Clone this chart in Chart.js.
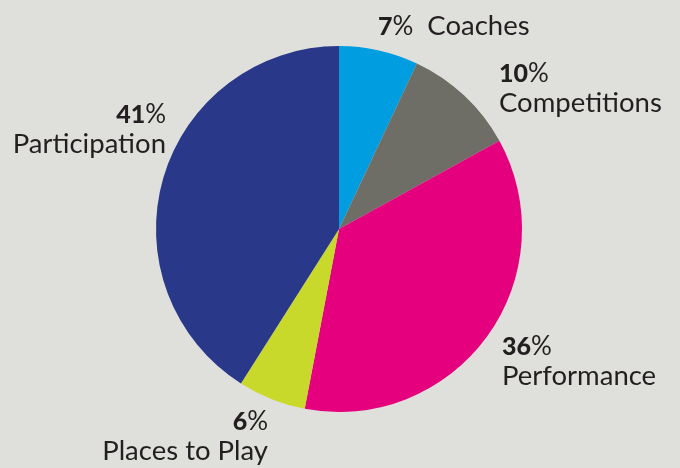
<!DOCTYPE html>
<html>
<head>
<meta charset="utf-8">
<script src="https://cdn.jsdelivr.net/npm/chart.js@4"></script>
<style>
  body { margin: 0; background: #dfdfdc; }
  #wrap { width: 680px; height: 468px; }
</style>
</head>
<body>
<div id="wrap"><canvas id="pieChart" width="680" height="468"></canvas></div>
<script>
const categories = ["Coaches", "Competitions", "Performance", "Places to Play", "Participation"];
const shares = [7, 10, 36, 6, 41];
const colours = ["#009ee0", "#6e6e66", "#e5007d", "#c9d92b", "#2a3889"];

// where each label sits, relative to the pie centre
const labelLayout = [
  { dx: 39, dy: -194, align: "left", oneLine: true },
  { dx: 160, dy: -147, align: "left" },
  { dx: 163, dy: 126, align: "left" },
  { dx: -71, dy: 201, align: "right" },
  { dx: -173, dy: -106, align: "right" }
];

const fontFam = "Lato, 'Open Sans', sans-serif";
const numFont = "900 25px " + fontFam;
const nameFont = "400 27.5px " + fontFam;
const pctFont = "400 26px " + fontFam;
const lineGap = 30;

const pieLabels = {
  id: "pieLabels",
  afterDraw(chart) {
    const ctx = chart.ctx;
    const arcs = chart.getDatasetMeta(0).data;
    ctx.save();
    ctx.fillStyle = "#231f20";
    ctx.textBaseline = "alphabetic";
    ctx.textAlign = "left";
    arcs.forEach((arc, i) => {
      const lay = labelLayout[i];
      const x = arc.x + lay.dx;
      const y = arc.y + lay.dy;
      const num = String(shares[i]);
      ctx.font = numFont;
      const wNum = ctx.measureText(num).width;
      ctx.font = pctFont;
      const wPct = ctx.measureText("%").width;
      ctx.font = nameFont;
      const wName = ctx.measureText(categories[i]).width;

      const x0 = lay.align === "left" ? x : x - wNum - wPct;
      ctx.font = numFont;
      ctx.fillText(num, x0, y);
      ctx.font = pctFont;
      ctx.fillText("%", x0 + wNum, y);

      ctx.font = nameFont;
      if (lay.oneLine) {
        ctx.fillText(categories[i], x0 + wNum + wPct + 14, y);
      } else {
        const xn = lay.align === "left" ? x : x - wName;
        ctx.fillText(categories[i], xn, y + lineGap);
      }
    });
    ctx.restore();
  }
};

new Chart(document.getElementById("pieChart"), {
  type: "pie",
  data: {
    labels: categories,
    datasets: [{
      data: shares,
      backgroundColor: colours,
      borderWidth: 0
    }]
  },
  options: {
    responsive: false,
    animation: false,
    layout: {
      padding: { left: 156, right: 158, top: 46, bottom: 56 }
    },
    plugins: {
      legend: { display: false },
      tooltip: { enabled: false }
    }
  },
  plugins: [pieLabels]
});
</script>
</body>
</html>
